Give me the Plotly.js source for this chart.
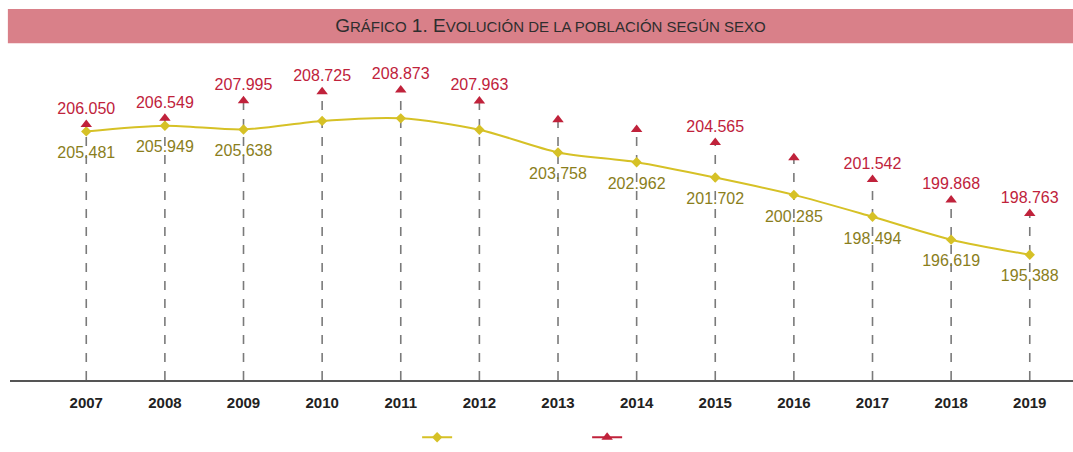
<!DOCTYPE html>
<html>
<head>
<meta charset="utf-8">
<script src="https://cdn.plot.ly/plotly-3.0.1.min.js"></script>
<style>html,body{margin:0;padding:0;background:#fff;}#chart{width:1073px;height:452px;}</style>
</head>
<body>
<div id="chart"></div>
<script>
// ---- data ----
const years = [2007, 2008, 2009, 2010, 2011, 2012, 2013, 2014, 2015, 2016, 2017, 2018, 2019];
const tickLabels = ["2007","2008","2009","2010","2011","2012","2013","2014","2015","2016","2017","2018","2019"];
// yellow series (hombres)
const seriesA = [205.481, 205.949, 205.638, 206.34, 206.55, 205.62, 203.758, 202.962, 201.702, 200.285, 198.494, 196.619, 195.388];
const labelsA = ["205.481","205.949","205.638","","","","203.758","202.962","201.702","200.285","198.494","196.619","195.388"];
// red series (mujeres)
const seriesB = [206.050, 206.549, 207.995, 208.725, 208.873, 207.963, 206.44, 205.64, 204.565, 203.32, 201.542, 199.868, 198.763];
const labelsB = ["206.050","206.549","207.995","208.725","208.873","207.963","","","204.565","","201.542","199.868","198.763"];

const yMin = 185.13, yMax = 211.9;
const fontFam = "Arial, 'Liberation Sans', sans-serif";
const yellow = "#d6c126";
const olive = "#8a7e1c";
const red = "#c0223b";

// droplines built from the data
const dropX = [], dropY = [];
years.forEach((yr, i) => { dropX.push(yr, yr, null); dropY.push(yMin, seriesB[i], null); });

const traces = [
  {x: dropX, y: dropY, mode: "lines", line: {color: "#7a7a7a", width: 1.6, dash: "dash"},
   hoverinfo: "skip", showlegend: false},
  {x: years, y: seriesA, mode: "lines+markers", name: "",
   line: {color: yellow, width: 2, shape: "spline", smoothing: 0.8},
   marker: {symbol: "diamond", size: 8, color: yellow},
   showlegend: true, legendrank: 1},
  // labels for the yellow series (transparent marker pushes text further below)
  {x: years, y: seriesA, mode: "markers+text",
   marker: {size: 22, color: "rgba(0,0,0,0)"},
   text: labelsA, textposition: "bottom center",
   textfont: {family: fontFam, size: 16, color: olive}, showlegend: false, hoverinfo: "skip"},
  {x: years, y: seriesB, mode: "markers", name: "",
   marker: {symbol: "triangle-up", size: 10, color: red}, showlegend: false},
  // labels for the red series
  {x: years, y: seriesB, mode: "markers+text",
   marker: {size: 9, color: "rgba(0,0,0,0)"},
   text: labelsB, textposition: "top center",
   textfont: {family: fontFam, size: 16, color: red}, showlegend: false, hoverinfo: "skip"},
  {x: [null], y: [null], mode: "lines+markers", name: "",
   line: {color: red, width: 2}, marker: {symbol: "triangle-up", size: 10, color: red},
   showlegend: true, legendrank: 2}
];

const layout = {
  width: 1073, height: 452,
  margin: {l: 10, r: 0, t: 53, b: 65},
  paper_bgcolor: "#ffffff", plot_bgcolor: "#ffffff",
  font: {family: fontFam},
  title: {
    text: "G<span style=\"font-size:15px\">RÁFICO</span> 1. E<span style=\"font-size:15px\">VOLUCIÓN DE LA POBLACIÓN SEGÚN SEXO</span>",
    font: {family: fontFam, size: 19, color: "#2e2e2e"},
    x: 0.513, xanchor: "center", y: 0.944, yanchor: "middle"
  },
  xaxis: {
    range: [2006.03, 2019.55], tickmode: "array", tickvals: years, ticktext: tickLabels,
    showgrid: false, zeroline: false, showline: true, linecolor: "#555555", linewidth: 1.5,
    ticks: "", ticklen: 0, ticklabelstandoff: 8,
    tickfont: {family: fontFam, size: 15, color: "#222222", weight: "bold"},
    fixedrange: true
  },
  yaxis: {range: [yMin, yMax], visible: false, fixedrange: true},
  showlegend: true,
  legend: {orientation: "h", x: 0.383, xanchor: "left", y: -0.175, yanchor: "middle",
           entrywidth: 125, entrywidthmode: "pixels", font: {size: 12}, bgcolor: "rgba(0,0,0,0)"},
  shapes: [
    {type: "rect", xref: "paper", yref: "paper", x0: -0.002, x1: 1.0, y0: 1.03, y1: 1.1347,
     fillcolor: "#d98089", line: {width: 0}, layer: "below"}
  ]
};

Plotly.newPlot("chart", traces, layout, {displayModeBar: false, staticPlot: true});
</script>
</body>
</html>
